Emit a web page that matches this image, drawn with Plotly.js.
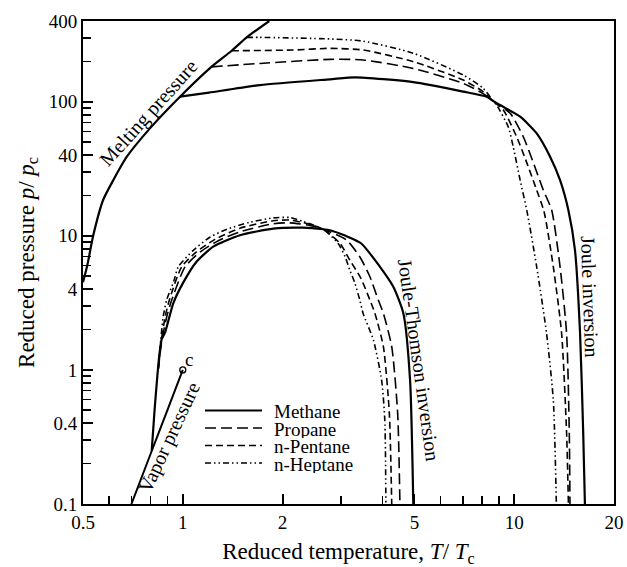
<!DOCTYPE html>
<html>
<head>
<meta charset="utf-8">
<script src="https://cdn.plot.ly/plotly-3.0.1.min.js"></script>
<style>html,body{margin:0;padding:0;background:#fff;}#chart{width:627px;height:567px;}</style>
</head>
<body>
<div id="chart"></div>
<script>
// ---- data ----
const seriesNames = ["Methane", "Propane", "n-Pentane", "n-Heptane"];

// melting pressure curve
const meltT = [0.5, 0.515, 0.537, 0.575, 0.617, 0.678, 0.796, 0.981, 1.22, 1.405, 1.559, 1.824];
const meltP = [4.5, 6.0, 10.1, 18.5, 26, 38.9, 63.3, 109, 182, 240, 302, 400];

// vapor pressure curve (ends at critical point c)
const vapT = [0.70, 0.80, 0.90, 1.0];
const vapP = [0.1, 0.237, 0.506, 1.0];
const critT = [1.0];
const critP = [1.0];

// Joule-Thomson inversion curves
const jtMethaneT = [0.806, 0.822, 0.838, 0.850, 0.864, 0.884, 0.936, 1.0, 1.10, 1.236, 1.488, 1.875, 2.3, 2.65, 2.78, 3.1, 3.45, 3.93, 4.31, 4.63, 4.85, 4.96];
const jtMethaneP = [0.25, 0.5, 0.9, 1.3, 1.7, 1.9, 3.14, 4.42, 6.41, 8.3, 10.1, 11.3, 11.5, 11.2, 11.0, 10.0, 8.8, 5.9, 4.2, 2.64, 0.84, 0.1];
const jtPropaneT = [0.843, 0.865, 0.895, 0.926, 1.016, 1.13, 1.28, 1.488, 1.875, 2.1, 2.4, 2.65, 3.12, 3.42, 3.67, 3.89, 4.03, 4.27, 4.45, 4.52];
const jtPropaneP = [1.0, 1.67, 2.5, 3.32, 5.87, 7.6, 9.2, 10.7, 12.3, 12.5, 12.0, 11.2, 9.3, 6.98, 4.95, 3.32, 2.64, 1.49, 0.474, 0.1];
const jtPentaneT = [0.843, 0.862, 0.885, 0.911, 0.992, 1.1, 1.25, 1.488, 1.875, 2.1, 2.35, 2.65, 2.98, 3.19, 3.45, 3.67, 3.80, 4.03, 4.2, 4.27];
const jtPentaneP = [1.0, 1.67, 2.5, 3.32, 5.87, 7.6, 9.4, 11.4, 12.96, 13.1, 12.4, 11.2, 8.8, 6.6, 4.8, 3.32, 2.64, 1.49, 0.474, 0.1];
const jtHeptaneT = [0.843, 0.858, 0.873, 0.894, 0.94, 0.969, 1.076, 1.21, 1.36, 1.59, 1.875, 2.1, 2.3, 2.65, 2.94, 3.09, 3.19, 3.3, 3.42, 3.50, 3.76, 3.98, 4.07, 4.1];
const jtHeptaneP = [1.0, 1.67, 2.5, 3.32, 4.6, 5.87, 7.8, 9.8, 11.2, 12.6, 13.6, 13.7, 12.8, 11.2, 8.8, 6.98, 5.56, 4.5, 3.32, 2.64, 1.67, 0.84, 0.42, 0.1];

// Joule inversion curves
const jiMethaneT = [0.981, 1.2, 1.71, 2.78, 3.31, 4.96, 7.02, 8.26, 8.6, 9.06, 10.42, 11.69, 12.83, 13.75, 14.57, 15.25, 15.8, 16.15, 16.34];
const jiMethaneP = [109, 117, 133, 147, 152, 140, 119, 109, 102, 94.5, 77.3, 58, 38.9, 26, 15.5, 7.83, 1.87, 0.337, 0.1];
const jiPropaneT = [1.22, 1.71, 2.78, 3.5, 4.96, 7.02, 8.06, 8.6, 9.73, 10.65, 11.44, 12.24, 12.97, 13.75, 14.39, 14.66, 14.73];
const jiPropaneP = [182, 193, 207, 205, 177, 137, 115, 102, 81.9, 54.8, 34.7, 21.9, 15.6, 5.87, 1.87, 0.337, 0.1];
const jiPentaneT = [1.405, 2.15, 2.78, 3.5, 4.96, 7.02, 8.06, 8.6, 9.27, 10.17, 10.93, 11.69, 12.3, 13.12, 13.9, 14.39, 14.57];
const jiPentaneP = [240, 243, 250, 243, 199, 145, 119, 102, 86.7, 54.8, 34.7, 21.9, 15.2, 5.87, 1.87, 0.337, 0.1];
const jiHeptaneT = [1.559, 1.71, 2.78, 3.5, 4.96, 7.02, 8.06, 8.6, 8.85, 9.59, 9.93, 10.42, 10.93, 11.69, 12.52, 13.12, 13.4];
const jiHeptaneP = [302, 302, 294, 283, 230, 158, 126, 103, 94.5, 65.1, 46.2, 26, 15.2, 5.87, 1.87, 0.596, 0.1];

// axis ticks
const xTickVals = [0.5, 1, 2, 5, 10, 20];
const xTickText = ["0.5", "1", "2", "5", "10", "20"];
const xMinorVals = [0.6, 0.7, 0.8, 0.9, 3, 4, 6, 7, 8, 9];
const yTickVals = [0.1, 0.4, 1, 4, 10, 40, 100, 400];
const yTickText = ["0.1", "0.4", "1", "4", "10", "40", "100", "400"];
const yMinorVals = [0.2, 0.3, 0.5, 0.6, 0.7, 0.8, 0.9, 2, 3, 5, 6, 7, 8, 9, 20, 30, 50, 60, 70, 80, 90, 200, 300];

// ---- styles ----
const FONT = "Liberation Serif, Times New Roman, serif";
const styles = [
  {dash: "solid", width: 2.2},
  {dash: "11px,5px", width: 1.6},
  {dash: "7px,4px", width: 1.6},
  {dash: "6px,3px,1.5px,3px,1.5px,3px", width: 1.6}
];

function curve(x, y, s) {
  return {x: x, y: y, type: "scatter", mode: "lines",
    line: {color: "#000", width: s.width, dash: s.dash, shape: "spline", smoothing: 0.6},
    hoverinfo: "skip", showlegend: false};
}

const traces = [
  curve(meltT, meltP, styles[0]),
  curve(vapT, vapP, {dash: "solid", width: 2}),
  curve(jtMethaneT, jtMethaneP, styles[0]),
  curve(jtPropaneT, jtPropaneP, styles[1]),
  curve(jtPentaneT, jtPentaneP, styles[2]),
  curve(jtHeptaneT, jtHeptaneP, styles[3]),
  curve(jiMethaneT, jiMethaneP, styles[0]),
  curve(jiPropaneT, jiPropaneP, styles[1]),
  curve(jiPentaneT, jiPentaneP, styles[2]),
  curve(jiHeptaneT, jiHeptaneP, styles[3]),
  {x: critT, y: critP, type: "scatter", mode: "markers",
   marker: {symbol: "circle-open", size: 6, color: "#000", line: {width: 1.3, color: "#000"}},
   hoverinfo: "skip", showlegend: false}
];

// plot area in pixels
const L = 83, R = 13, T = 21, B = 63, W = 627, H = 567;
const pw = W - L - R, ph = H - T - B;
const px = v => (v - L) / pw;
const py = v => (H - B - v) / ph;

const annotations = [
  {text: "Melting pressure", x: px(148), y: py(113), textangle: -48},
  {text: "Vapor pressure", x: px(169), y: py(437), textangle: -65},
  {text: "c", x: px(189), y: py(359), textangle: 0, font: {family: FONT, size: 19, color: "#000"}},
  {text: "Joule-Thomson inversion", x: px(419), y: py(360), textangle: 82},
  {text: "Joule inversion", x: px(590), y: py(297), textangle: 88}
].map(a => Object.assign({xref: "paper", yref: "paper", showarrow: false,
  xanchor: "center", yanchor: "middle", font: {family: FONT, size: 20, color: "#000"}}, a));

// legend (drawn manually to match compact spacing)
const legRowY = [410.5, 428, 445.5, 463];
const shapes = [];
seriesNames.forEach((name, i) => {
  shapes.push({type: "line", xref: "paper", yref: "paper",
    x0: px(205), x1: px(262), y0: py(legRowY[i]), y1: py(legRowY[i]),
    line: {color: "#000", width: styles[i].width, dash: styles[i].dash}});
  annotations.push({text: name, xref: "paper", yref: "paper", x: px(272), y: py(legRowY[i] + 1),
    xanchor: "left", yanchor: "middle", showarrow: false, height: 17,
    font: {family: FONT, size: 19, color: "#000"}});
});

const layout = {
  width: W, height: H,
  margin: {l: L, r: R, t: T, b: B, pad: 0},
  paper_bgcolor: "#fff", plot_bgcolor: "#fff",
  showlegend: false,
  font: {family: FONT, size: 19, color: "#000"},
  xaxis: {
    type: "log", range: [Math.log10(0.5), Math.log10(20)],
    tickmode: "array", tickvals: xTickVals, ticktext: xTickText,
    ticks: "inside", ticklen: 10, tickwidth: 2, tickcolor: "#000",
    minor: {tickmode: "array", tickvals: xMinorVals, ticks: "inside", ticklen: 8, tickwidth: 1.6, tickcolor: "#000", showgrid: false},
    showline: true, linewidth: 2, linecolor: "#000", mirror: true,
    showgrid: false, zeroline: false,
    tickfont: {family: FONT, size: 19, color: "#000"},
    title: {text: "Reduced temperature, <i>T</i>/ <i>T</i><sub>c</sub>", font: {family: FONT, size: 23, color: "#000"}, standoff: 12}
  },
  yaxis: {
    type: "log", range: [-1, Math.log10(400)],
    tickmode: "array", tickvals: yTickVals, ticktext: yTickText,
    ticks: "inside", ticklen: 10, tickwidth: 2, tickcolor: "#000",
    minor: {tickmode: "array", tickvals: yMinorVals, ticks: "inside", ticklen: 8, tickwidth: 1.6, tickcolor: "#000", showgrid: false},
    showline: true, linewidth: 2, linecolor: "#000", mirror: true,
    showgrid: false, zeroline: false,
    tickfont: {family: FONT, size: 19, color: "#000"},
    title: {text: "Reduced pressure <i>p</i>/ <i>p</i><sub>c</sub>", font: {family: FONT, size: 23, color: "#000"}, standoff: 8}
  },
  annotations: annotations,
  shapes: shapes
};

Plotly.newPlot("chart", traces, layout, {staticPlot: true, displayModeBar: false});
</script>
</body>
</html>
